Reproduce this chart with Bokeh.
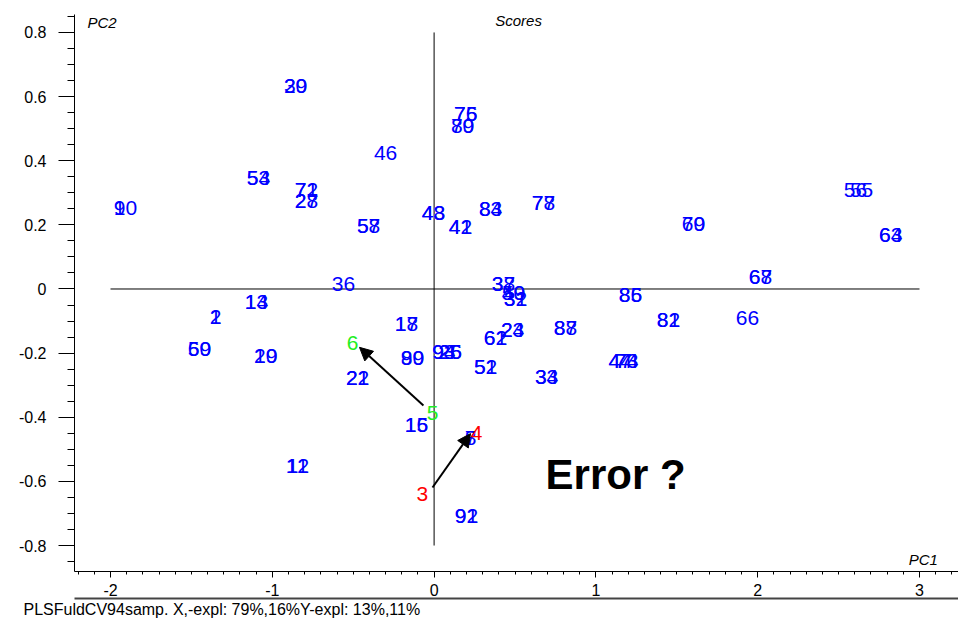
from bokeh.plotting import figure
from bokeh.models import (Range1d, LinearAxis, FixedTicker, Label, Arrow, NormalHead,
                          ColumnDataSource, Title)
from bokeh.core.properties import value
from bokeh.embed import file_html
from bokeh.resources import INLINE
import numpy as np

# ---- data (scores) ----
sample_labels = ["29", "30", "9", "10", "53", "54", "71", "72", "27", "28", "46",
                 "57", "58", "75", "76", "79", "80", "43", "48", "41", "42", "83", "84",
                 "77", "78", "69", "70", "56", "55", "63", "64", "67", "68", "66",
                 "36", "13", "14", "1", "2", "59", "60", "19", "20", "17", "18",
                 "89", "90", "21", "22", "15", "16", "93", "94", "25", "26", "37", "38",
                 "49", "50", "31", "32", "85", "86", "81", "82", "23", "24", "61", "62",
                 "87", "88", "51", "52", "33", "34", "47", "44", "73", "74", "7", "8",
                 "91", "92", "11", "12"]
pc1 = [-0.856, -0.856, -1.944, -1.907, -1.085, -1.085, -0.789, -0.789, -0.789, -0.789, -0.300,
       -0.405, -0.405, 0.195, 0.195, 0.176, 0.176, -0.004, -0.004, 0.163, 0.163, 0.349, 0.349,
       0.676, 0.676, 1.603, 1.603, 2.604, 2.642, 2.822, 2.822, 2.017, 2.017, 1.937,
       -0.560, -1.098, -1.098, -1.351, -1.351, -1.450, -1.450, -1.041, -1.041, -0.171, -0.171,
       -0.134, -0.134, -0.473, -0.473, -0.109, -0.109, 0.060, 0.060, 0.100, 0.100, 0.429, 0.429,
       0.491, 0.491, 0.503, 0.503, 1.214, 1.214, 1.449, 1.449, 0.485, 0.485, 0.379, 0.379,
       0.812, 0.812, 0.318, 0.318, 0.695, 0.695, 1.150, 1.150, 1.190, 1.190, 0.225, 0.225,
       0.200, 0.200, -0.844, -0.844]
pc2 = [0.632, 0.632, 0.254, 0.254, 0.345, 0.345, 0.310, 0.310, 0.273, 0.273, 0.423,
       0.195, 0.195, 0.547, 0.547, 0.507, 0.507, 0.236, 0.236, 0.192, 0.192, 0.251, 0.251,
       0.267, 0.267, 0.204, 0.204, 0.310, 0.310, 0.167, 0.167, 0.036, 0.036, -0.089,
       0.017, -0.042, -0.042, -0.086, -0.086, -0.186, -0.186, -0.208, -0.208, -0.108, -0.108,
       -0.214, -0.214, -0.279, -0.279, -0.423, -0.423, -0.198, -0.198, -0.198, -0.198, 0.017, 0.017,
       -0.014, -0.014, -0.030, -0.030, -0.020, -0.020, -0.098, -0.098, -0.129, -0.129, -0.154, -0.154,
       -0.123, -0.123, -0.242, -0.242, -0.276, -0.276, -0.223, -0.223, -0.223, -0.223, -0.466, -0.466,
       -0.707, -0.707, -0.551, -0.551]

# suspicious replicate pairs
red_labels = ["3", "4"]
red_pc1 = [-0.072, 0.262]
red_pc2 = [-0.638, -0.448]
green_labels = ["5", "6"]
green_pc1 = [-0.010, -0.504]
green_pc2 = [-0.388, -0.167]

arrow_x0 = [-0.066, -0.010]
arrow_y0 = [-0.363, -0.619]
arrow_x1 = [-0.461, 0.225]
arrow_y1 = [-0.182, -0.451]

# origin cross
cross_x0 = [-2.0, 0.0]
cross_y0 = [0.0, -0.8]
cross_x1 = [3.0, 0.0]
cross_y1 = [0.0, 0.8]

x_ticks = [-2, -1, 0, 1, 2, 3]
x_tick_labels = ["-2", "-1", "0", "1", "2", "3"]
y_ticks = [-0.8, -0.6, -0.4, -0.2, 0.0, 0.2, 0.4, 0.6, 0.8]
y_tick_labels = ["-0.8", "-0.6", "-0.4", "-0.2", "0", "0.2", "0.4", "0.6", "0.8"]

footer_text = "PLSFuldCV94samp. X,-expl: 79%,16%Y-expl: 13%,11%"

FONT = "Liberation Sans"

p = figure(width=958, height=626, output_backend="svg", toolbar_location=None,
           x_range=Range1d(-2.2225, 3.241), y_range=Range1d(-0.881, 0.856),
           x_axis_location=None, y_axis_location=None,
           min_border_left=74, min_border_right=0, min_border_top=14, min_border_bottom=55)
p.grid.visible = False
p.outline_line_color = None
p.background_fill_color = "white"
p.border_fill_color = "white"

# y axis
x_minor = [round(v, 2) for v in np.arange(-2.2, 3.25, 0.1)]
y_minor = [round(v, 4) for v in np.arange(-0.85, 0.86, 0.05)]
yaxis = LinearAxis(ticker=FixedTicker(ticks=y_ticks, minor_ticks=y_minor),
                   major_label_overrides={t: l for t, l in zip(y_ticks, y_tick_labels)})
yaxis.major_tick_out = 16
yaxis.major_tick_in = 0
yaxis.minor_tick_out = 7
yaxis.minor_tick_in = 0
yaxis.major_label_standoff = 12
yaxis.major_label_text_font = FONT
yaxis.major_label_text_font_size = "16px"
yaxis.major_label_text_color = "black"
yaxis.axis_line_color = "black"
yaxis.major_tick_line_color = "black"
yaxis.minor_tick_line_color = "black"
p.add_layout(yaxis, "left")

# x axis
xaxis = LinearAxis(ticker=FixedTicker(ticks=x_ticks, minor_ticks=x_minor),
                   major_label_overrides={t: l for t, l in zip(x_ticks, x_tick_labels)})
xaxis.major_tick_out = 6
xaxis.major_tick_in = 0
xaxis.minor_tick_out = 3
xaxis.minor_tick_in = 0
xaxis.major_label_standoff = 6
xaxis.major_label_text_font = FONT
xaxis.major_label_text_font_size = "16px"
xaxis.major_label_text_color = "black"
xaxis.axis_line_color = "black"
xaxis.major_tick_line_color = "black"
xaxis.minor_tick_line_color = "black"
p.add_layout(xaxis, "below")

xaxis2 = LinearAxis(ticker=FixedTicker(ticks=[]))
xaxis2.major_tick_out = 0
xaxis2.minor_tick_out = 0
xaxis2.major_label_standoff = 0
xaxis2.axis_line_color = "#444444"
xaxis2.axis_line_width = 2
p.add_layout(xaxis2, "below")

p.add_layout(Title(text=footer_text, align="left", offset=-51, standoff=0,
                   text_font=FONT, text_font_size="16px", text_font_style="normal",
                   text_color="black"), "below")

# origin cross
p.segment(x0=cross_x0, y0=cross_y0, x1=cross_x1, y1=cross_y1, line_color="black", line_width=1)

# sample labels
src = ColumnDataSource(dict(x=pc1, y=pc2, t=sample_labels))
p.text(x="x", y="y", text="t", source=src, text_font=value(FONT), text_font_size="21px",
       text_color="#0000ff", text_align="center", text_baseline="middle")
p.text(x=red_pc1, y=red_pc2, text=red_labels, text_font=value(FONT), text_font_size="21px",
       text_color="#ff0000", text_align="center", text_baseline="middle")
p.text(x=green_pc1, y=green_pc2, text=green_labels, text_font=value(FONT), text_font_size="21px",
       text_color="#22ee22", text_align="center", text_baseline="middle")

# arrows
asrc = ColumnDataSource(dict(x0=arrow_x0, y0=arrow_y0, x1=arrow_x1, y1=arrow_y1))
p.add_layout(Arrow(x_start="x0", y_start="y0", x_end="x1", y_end="y1", source=asrc,
                   line_color="black", line_width=2,
                   end=NormalHead(size=13, fill_color="black", line_color="black")))

# texts
p.add_layout(Label(x=0.522, y=0.8375, text="Scores", text_font=FONT, text_font_size="15px",
                   text_font_style="italic", text_color="black",
                   text_align="center", text_baseline="middle"))
p.add_layout(Label(x=-2.142, y=0.831, text="PC2", text_font=FONT, text_font_size="15px",
                   text_font_style="italic", text_color="black",
                   text_align="left", text_baseline="middle"))
p.add_layout(Label(x=2.933, y=-0.844, text="PC1", text_font=FONT, text_font_size="15px",
                   text_font_style="italic", text_color="black",
                   text_align="left", text_baseline="middle"))
p.add_layout(Label(x=0.689, y=-0.5786, text="Error ?", text_font=FONT, text_font_size="42px",
                   text_font_style="bold", text_color="black",
                   text_align="left", text_baseline="middle"))

open("out.html", "w").write(file_html(p, INLINE))
